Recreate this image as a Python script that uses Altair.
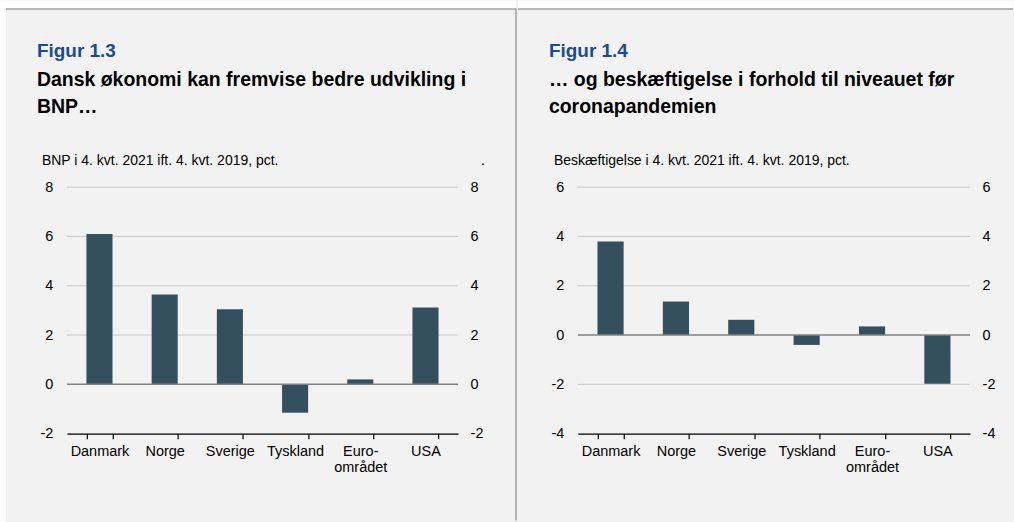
import altair as alt
import pandas as pd

# Countries on the x axis
lande = ["Danmark", "Norge", "Sverige", "Tyskland", "Euro-området", "USA"]

# Figur 1.3: BNP i 4. kvt. 2021 ift. 4. kvt. 2019, pct.
bnp = [6.1, 3.65, 3.05, -1.15, 0.2, 3.12]
# Figur 1.4: Beskæftigelse i 4. kvt. 2021 ift. 4. kvt. 2019, pct.
beskaeftigelse = [3.8, 1.36, 0.62, -0.4, 0.35, -1.98]

# Axis tick values for each panel
bnp_ticks = [-2, 0, 2, 4, 6, 8]
besk_ticks = [-4, -2, 0, 2, 4, 6]

BAR = "#34505f"
BLUE = "#1d4b8e"
GRID = "#c8c8c8"
ZERO = "#808080"
FRAME = "#a0a0a0"
BG = "#f2f2f2"
FONT = "Liberation Sans"

H = 247
one = alt.Data(values=[{}])


def box(x, x2, y, y2, color):
    return alt.Chart(one).mark_rect(color=color).encode(
        x=alt.value(x), x2=alt.value(x2), y=alt.value(y), y2=alt.value(y2)
    )


def hline(x, x2, y):
    return alt.Chart(one).mark_rule(color=FRAME, strokeWidth=1.5).encode(
        x=alt.value(x), x2=alt.value(x2), y=alt.value(y)
    )


def vline(x, y, y2):
    return alt.Chart(one).mark_rule(color=FRAME, strokeWidth=1.5).encode(
        x=alt.value(x), y=alt.value(y), y2=alt.value(y2)
    )


def label(text, x, y, size, weight="normal", color="#000", line_height=None):
    kw = dict(align="left", baseline="alphabetic", font=FONT, fontSize=size,
              fontWeight=weight, color=color)
    if line_height:
        kw["lineHeight"] = line_height
    return alt.Chart(one).mark_text(**kw).encode(
        x=alt.value(x), y=alt.value(y), text=alt.value(text)
    )


def panel(values, ticks, width, figur, overskrift, enhed, frame_layers, tx, ux, extra=None):
    df = pd.DataFrame({"land": lande, "pct": values})
    yscale = alt.Scale(domain=[ticks[0], ticks[-1]], nice=False, zero=False)

    lbl = dict(labelFont=FONT, labelFontSize=14.5, labelColor="#000")
    # plain hyphen for negative numbers
    num = "'' + datum.value"

    grid = (
        alt.Chart(pd.DataFrame({"v": ticks}))
        .transform_filter(f"datum.v != 0 && datum.v != {ticks[0]}")
        .mark_rule(color=GRID, strokeWidth=1)
        .encode(
            y=alt.Y("v:Q", scale=yscale,
                    axis=alt.Axis(title=None, orient="right", values=ticks,
                                  domain=False, ticks=False, grid=False,
                                  labelPadding=12, labelExpr=num, **lbl)),
            x=alt.value(0),
            x2=alt.value(width),
        )
    )

    bars = alt.Chart(df).mark_bar(color=BAR).encode(
        x=alt.X("land:N", sort=lande,
                scale=alt.Scale(paddingInner=0.6, paddingOuter=0.3),
                axis=alt.Axis(title=None, orient="bottom", tickBand="extent",
                              labelAngle=0, labelPadding=6, tickSize=5,
                              tickColor="#000", domainColor="#000",
                              domainWidth=1.2, tickWidth=1.2, grid=False,
                              labelLineHeight=16,
                              labelExpr="datum.label == 'Euro-området' ? ['Euro-', 'området'] : datum.label",
                              **lbl)),
        y=alt.Y("pct:Q", scale=yscale,
                axis=alt.Axis(title=None, orient="left", values=ticks,
                              domain=False, ticks=False, grid=False,
                              labelPadding=14, labelExpr=num, **lbl)),
    )

    zero = alt.Chart(pd.DataFrame({"v": [0]})).mark_rule(
        color=ZERO, strokeWidth=1.5
    ).encode(
        y=alt.Y("v:Q", scale=yscale, axis=None),
        x=alt.value(0),
        x2=alt.value(width),
    )

    texts = [
        label(figur, tx, -130, 19, "bold", BLUE),
        label(overskrift, tx, -101, 19.5, "bold", "#000", line_height=27),
        label(enhed, ux, -22, 14),
    ]
    if extra is not None:
        texts.append(extra)

    return (
        alt.layer(*frame_layers, grid, bars, zero, *texts)
        .resolve_scale(y="shared")
        .resolve_axis(y="independent")
        .properties(width=width, height=H)
    )


left = panel(
    bnp, bnp_ticks, 392,
    "Figur 1.3",
    ["Dansk økonomi kan fremvise bedre udvikling i", "BNP…"],
    "BNP i 4. kvt. 2021 ift. 4. kvt. 2019, pct.",
    [
        box(-67, -61, -187, 335, "#ffffff"),
        box(-67, 450, -187, -179, "#ffffff"),
        hline(-61, 450, -178.5),
        vline(450, -179, 334),
    ],
    -30, -25,
    extra=label(".", 415, -22, 14),
)

right = panel(
    beskaeftigelse, besk_ticks, 393,
    "Figur 1.4",
    ["… og beskæftigelse i forhold til niveauet før", "coronapandemien"],
    "Beskæftigelse i 4. kvt. 2021 ift. 4. kvt. 2019, pct.",
    [
        box(-60, 436, -187, -179, "#ffffff"),
        hline(-60, 436, -178.5),
    ],
    -29, -24,
)

chart = (
    alt.hconcat(left, right, spacing=0)
    .properties(padding=0)
    .configure(background=BG)
    .configure_view(stroke=None)
)

chart.save("out.html", embed_options={"renderer": "svg", "actions": False})
